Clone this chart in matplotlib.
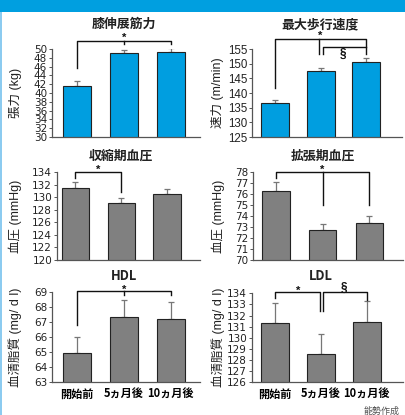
import matplotlib
matplotlib.use("Agg")
import matplotlib.pyplot as plt
from matplotlib.patches import Rectangle
import matplotlib.transforms as mtransforms

plt.rcParams['font.family'] = ['Liberation Sans', 'Noto Sans CJK JP']

# 測定時期
kikan = ["開始前", "5ヵ月後", "10ヵ月後"]

# 各指標の平均値と標準誤差
hiza_kin = [41.7, 49.0, 49.25]
hiza_err = [1.0, 0.8, 0.9]
hokou_sokudo = [136.5, 147.5, 150.5]
hokou_err = [1.1, 1.0, 1.3]
shuku_ketsuatsu = [131.45, 129.05, 130.5]
shuku_err = [0.95, 0.9, 0.9]
kakucho_ketsuatsu = [76.3, 72.7, 73.4]
kakucho_err = [0.8, 0.55, 0.6]
hdl = [64.95, 67.35, 67.2]
hdl_err = [1.1, 1.15, 1.15]
ldl = [131.3, 128.5, 131.4]
ldl_err = [1.85, 1.85, 1.9]

W, H = 406, 415
fig = plt.figure(figsize=(W / 100, H / 100), dpi=100)
fig.patch.set_facecolor("white")

# 上部の帯と左の縁取り
fig.add_artist(Rectangle((0, 1 - 12 / H), 1, 12 / H, transform=fig.transFigure,
                         color="#009fe0", lw=0))
fig.add_artist(Rectangle((0, 0), 2.3 / W, 1 - 12 / H, transform=fig.transFigure,
                         color="#8ccbf0", lw=0))

BLUE = "#009ee0"
GRAY = "#808080"


def make_ax(x0, x1, ytop, ybot, xlim, wide=True):
    ax = fig.add_axes([x0 / W, 1 - ybot / H, (x1 - x0) / W, (ybot - ytop) / H])
    ax.set_xlim(*xlim)
    for s in ["top", "right"]:
        ax.spines[s].set_visible(False)
    for s in ["left", "bottom"]:
        ax.spines[s].set_color("#555555")
        ax.spines[s].set_linewidth(0.9)
    ax.tick_params(axis="y", length=2.5, width=0.7, pad=1, colors="#222222", color="#555555")
    ax.tick_params(axis="x", length=0)
    ax.set_xticks([])
    ax.patch.set_alpha(0)
    ax._wide = wide
    return ax


def yticks(ax, ticks):
    ax.set_yticks(ticks)
    if ax._wide:
        ax.set_yticklabels([str(t) for t in ticks], fontsize=7.5, family="DejaVu Sans")
    else:
        ax.set_yticklabels([str(t) for t in ticks], fontsize=8.3, family="Liberation Sans")
    ax.set_ylim(ticks[0], ticks[-1])


def draw_bars(ax, vals, errs, color, width):
    x = range(len(vals))
    ax.bar(x, vals, width=width, color=color, edgecolor="#222222", linewidth=0.8, zorder=2)
    ax.errorbar(x, vals, yerr=[[0] * len(errs), errs], fmt="none", ecolor="#777777",
                elinewidth=0.9, capsize=2, capthick=0.9, zorder=1)


def bracket(ax, xa, xb, y, ya, yb, mid=None):
    kw = dict(color="#111111", lw=1.0, clip_on=False, zorder=3)
    ax.plot([xa, xa, xb, xb], [ya, y, y, yb], **kw)
    if mid is not None:
        ax.plot([mid[0], mid[0]], [y, mid[1]], **kw)


def sig(ax, x, y, s, size=8):
    ax.text(x, y, s, ha="center", va="center", fontsize=size, fontweight="bold",
            color="#111111", clip_on=False)


def title(ax, text, ypix):
    tr = mtransforms.blended_transform_factory(ax.transData, fig.transFigure)
    ax.text(1, 1 - ypix / H, text, transform=tr, ha="center", va="center",
            fontsize=9.3, fontweight="bold", color="#222222",
            family=["Noto Sans CJK JP", "Liberation Sans"])


def ylabel(ax, text, xpix):
    tr = mtransforms.blended_transform_factory(fig.transFigure, ax.transAxes)
    ax.text(xpix / W, 0.5, text, transform=tr, rotation=90, ha="center", va="center",
            fontsize=9, color="#222222")


# 膝伸展筋力
ax1 = make_ax(52, 200, 49, 137, (-0.535, 2.63))
draw_bars(ax1, hiza_kin, hiza_err, BLUE, 0.6)
yticks(ax1, list(range(30, 51, 2)))
bracket(ax1, 0, 2, 51.9, 45.7, 51.2, mid=(1, 51.2))
sig(ax1, 1, 52.5, "*")
title(ax1, "膝伸展筋力", 24)
ylabel(ax1, "張力 (kg)", 15)

# 最大歩行速度
ax2 = make_ax(252, 402, 49, 137, (-0.505, 2.79), wide=False)
draw_bars(ax2, hokou_sokudo, hokou_err, BLUE, 0.615)
yticks(ax2, list(range(125, 156, 5)))
bracket(ax2, 0, 2, 158.3, 141.8, 153.2, mid=(0.97, 153.2))
bracket(ax2, 1.05, 2, 155.8, 153.2, 155.8)
sig(ax2, 1, 159.5, "*")
sig(ax2, 1.5, 153.2, "§", size=8.5)
title(ax2, "最大歩行速度", 24)
ylabel(ax2, "速力 (m/min)", 218)

# 収縮期血圧
ax3 = make_ax(57, 200, 172.3, 260, (-0.40, 2.72))
draw_bars(ax3, shuku_ketsuatsu, shuku_err, GRAY, 0.59)
yticks(ax3, list(range(120, 135, 2)))
bracket(ax3, 0, 1, 134.1, 133.05, 130.9)
sig(ax3, 0.5, 134.4, "*")
title(ax3, "収縮期血圧", 156)
ylabel(ax3, "血圧 (mmHg)", 15)

# 拡張期血圧
ax4 = make_ax(253, 403, 172.3, 260, (-0.49, 2.72))
draw_bars(ax4, kakucho_ketsuatsu, kakucho_err, GRAY, 0.59)
yticks(ax4, list(range(70, 79)))
bracket(ax4, 0, 2, 78.05, 77.5, 75.0, mid=(1, 75.0))
sig(ax4, 1, 78.23, "*")
title(ax4, "拡張期血圧", 156)
ylabel(ax4, "血圧 (mmHg)", 218)

# HDL
ax5 = make_ax(52, 200, 292.3, 382.3, (-0.535, 2.63))
draw_bars(ax5, hdl, hdl_err, GRAY, 0.6)
yticks(ax5, list(range(63, 70)))
bracket(ax5, 0, 2, 69.1, 66.8, 68.8, mid=(1, 68.8))
sig(ax5, 1, 69.17, "*")
title(ax5, "HDL", 276)
ylabel(ax5, "血清脂質 (mg/ d l)", 15)

# LDL
ax6 = make_ax(252, 403, 293.3, 382.3, (-0.505, 2.79))
draw_bars(ax6, ldl, ldl_err, GRAY, 0.615)
yticks(ax6, list(range(126, 135)))
bracket(ax6, 0, 0.97, 134.15, 133.55, 132.4)
bracket(ax6, 1.05, 2, 134.15, 132.4, 133.4)
sig(ax6, 0.5, 134.24, "*")
sig(ax6, 1.5, 134.5, "§", size=8.5)
title(ax6, "LDL", 276)
ylabel(ax6, "血清脂質 (mg/ d l)", 218)

for ax in (ax5, ax6):
    ax.set_xticks(range(len(kikan)))
    ax.set_xticklabels(kikan, fontsize=8, fontweight="bold",
                       family=["Noto Sans CJK JP", "Liberation Sans"])
    ax.tick_params(axis="x", pad=4)

fig.text(400 / W, 1 - 411 / H, "能勢作成", ha="right", va="center", fontsize=6.5,
         color="#555555", family=["Noto Sans CJK JP"])

fig.savefig("out.png", dpi=100)
